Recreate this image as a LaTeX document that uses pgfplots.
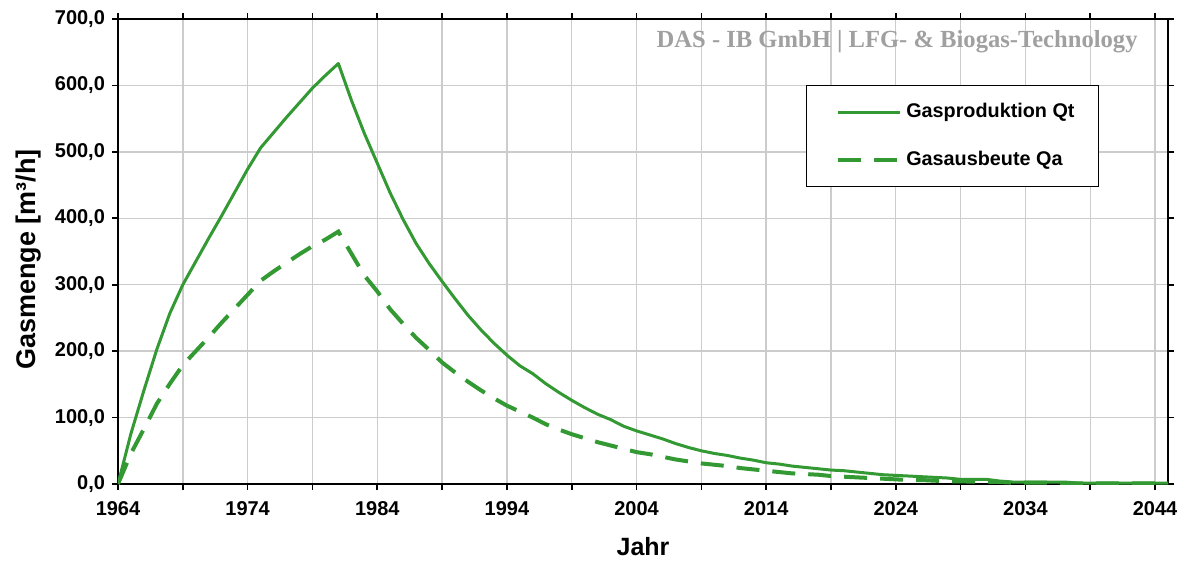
\documentclass[border=0pt]{standalone}
\usepackage{pgfplots}
\pgfplotsset{compat=1.18}
\usepackage{pgfplotstable}
\usepackage{fontspec}
\setmainfont{Liberation Sans}
\newfontfamily\timesfont{Liberation Serif}
\definecolor{lgreen}{RGB}{51,153,51}
\definecolor{wmgray}{RGB}{160,160,160}

% Jahr, Gasproduktion Qt, Gasausbeute Qa (m3/h)
\pgfplotstableread{
year qt qa
1964 0 0
1965 76 46
1966 141 83
1967 203 121
1968 257 151
1969 300 179
1970 335 200
1971 370 221
1972 404 243
1973 439 264
1974 474 285
1975 506 306
1976 529 320
1977 552 333
1978 574 346
1979 596 358
1980 615 368
1981 633 380
1982 578 347
1983 528 314
1984 483 290
1985 438 263
1986 398 241
1987 362 220
1988 332 202
1989 305 183
1990 279 168
1991 254 154
1992 232 141
1993 212 129
1994 194 118
1995 178 109
1996 166 100
1997 151 90
1998 138 82
1999 126 75
2000 115 69
2001 105 63
2002 97 58
2003 87 53
2004 80 48
2005 74 45
2006 68 41
2007 61 37
2008 55 34
2009 50 31
2010 46 29
2011 43 27
2012 39 24
2013 36 22
2014 32 20
2015 30 18
2016 27 16
2017 25 15
2018 23 14
2019 21 12
2020 20 11
2021 18 10
2022 16 9
2023 14 8
2024 13 7
2025 12 6
2026 11 6
2027 10 5
2028 9 4
2029 7 4
2030 7 3.5
2031 7 3.5
2032 4.5 3
2033 3 2
2034 3 2
2035 3 2
2036 3 2
2037 3 1
2038 1.5 1
2039 1.5 1
2040 1.5 1
2041 1.5 1
2042 1.5 1
2043 1.5 1
2044 1.5 1
2045 1.5 1
}\gas

\begin{document}
\begin{tikzpicture}
\useasboundingbox (-59pt,-42.5pt) rectangle (534pt,242pt);
\begin{axis}[
    scale only axis,
    width=525pt, height=232.5pt,
    xmin=1964, xmax=2045, ymin=0, ymax=700,
    xtick={1964,1974,...,2044},
    minor xtick={1969,1979,...,2039},
    ytick={0,100,...,700},
    grid=both,
    major grid style={gray!40, line width=0.7pt},
    minor grid style={gray!40, line width=0.7pt},
    tick align=outside,
    major tick length=3pt, minor tick length=3pt,
    tick style={black, line width=0.8pt},
    axis line style={black, line width=1pt},
    /pgf/number format/assume math mode=true,
    tick label style={font=\fontsize{10}{12}\selectfont\bfseries},
    xticklabel style={/pgf/number format/1000 sep={}, yshift=-2pt},
    yticklabel style={/pgf/number format/.cd, fixed, fixed zerofill, precision=1, use comma},
    xlabel={Jahr},
    ylabel={Gasmenge [m³/h]},
    xlabel style={font=\fontsize{12.5}{15}\selectfont\bfseries, yshift=-4pt},
    ylabel style={font=\fontsize{13.5}{16}\selectfont\bfseries, yshift=0pt, xshift=-4pt},
    legend style={at={(0.655,0.858)}, anchor=north west, draw=black, line width=0.5pt,
        font=\fontsize{9.9}{11}\selectfont\bfseries, row sep=11pt,
        inner xsep=10pt, inner ysep=7pt, cells={anchor=west}},
    legend image code/.code={\path (0pt,0pt); \draw[#1] (5pt,0pt) -- (36pt,0pt);},
    legend cell align=left,
]
\addplot[lgreen, line width=1.5pt, line join=round] table[x=year, y=qt] {\gas};
\addlegendentry{Gasproduktion Qt}
\addplot[lgreen, line width=2pt, dash pattern=on 11.5pt off 6.5pt] table[x=year, y=qa] {\gas};
\addlegendentry{Gasausbeute Qa}
\node[font=\timesfont\fontsize{12.3}{14}\selectfont\bfseries, text=wmgray]
    at (rel axis cs:0.742,0.9505) {DAS - IB GmbH | LFG- \& Biogas-Technology};
\end{axis}
\end{tikzpicture}
\end{document}
